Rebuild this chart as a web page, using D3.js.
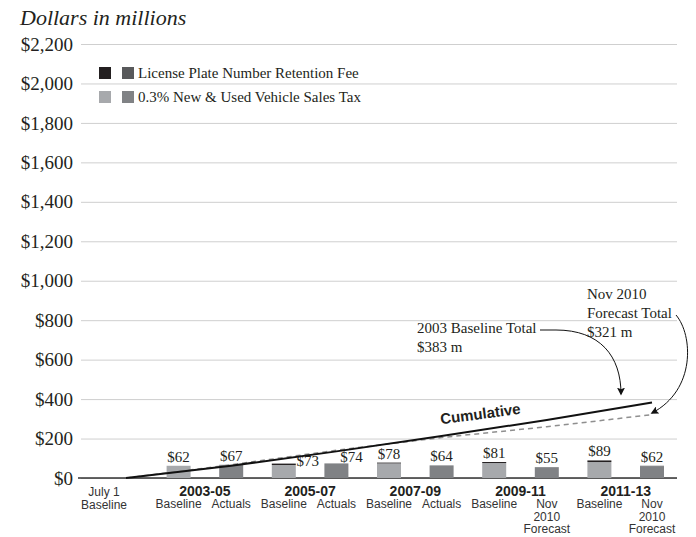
<!DOCTYPE html>
<html>
<head>
<meta charset="utf-8">
<script src="https://cdn.jsdelivr.net/npm/d3@7"></script>
<style>
  body { margin: 0; background: #fff; }
  svg { display: block; }
</style>
</head>
<body>
<div class="chart"></div>
<script>
var svgWidth = 696;
var svgHeight = 537;

// bars, left to right
var periods = ["2003-05", "2005-07", "2007-09", "2009-11", "2011-13"];
var barKinds = ["Baseline", "Actuals", "Baseline", "Actuals", "Baseline", "Actuals",
  "Baseline", "Nov|2010|Forecast", "Baseline", "Nov|2010|Forecast"];
var salesTax = [62, 67, 66, 74, 74, 64, 76, 55, 81, 58];
var plateFee = [0, 0, 7, 0, 4, 0, 5, 0, 8, 4];

// cumulative lines (July 1 start, then each period)
var cumSlots = [0, 2, 4, 6, 8, 10];
var cumBaseline = [0, 62, 135, 213, 294, 383];
var cumForecast = [0, 67, 141, 205, 260, 321];

var yTicks = [0, 200, 400, 600, 800, 1000, 1200, 1400, 1600, 1800, 2000, 2200];

var legendRows = ["License Plate Number Retention Fee", "0.3% New & Used Vehicle Sales Tax"];

var serif = "'Liberation Serif', 'Times New Roman', serif";
var sans = "'Liberation Sans', Arial, Helvetica, sans-serif";
var ink = "#231f20";

var svg = d3.select(".chart")
  .append("svg")
  .attr("width", svgWidth)
  .attr("height", svgHeight);

var x = d3.scalePoint()
  .domain(d3.range(11))
  .range([126, 652]);

var y = d3.scaleLinear()
  .domain([0, 2200])
  .range([478, 44]);

var barWidth = 24;

// title
svg.append("text")
  .text("Dollars in millions")
  .attr("x", 20)
  .attr("y", 25)
  .attr("font-family", serif)
  .attr("font-style", "italic")
  .attr("font-size", 22)
  .attr("fill", ink);

// y axis + gridlines
var yAxis = svg.append("g")
  .attr("transform", "translate(81,0)")
  .call(d3.axisLeft(y)
    .tickValues(yTicks)
    .tickSize(-596)
    .tickPadding(8)
    .tickFormat(function(d) { return "$" + d3.format(",")(d); }));

yAxis.select(".domain").remove();
yAxis.selectAll(".tick line")
  .attr("stroke", "#cfcfcf")
  .attr("stroke-width", 1);
yAxis.selectAll(".tick text")
  .attr("font-family", serif)
  .attr("font-size", 19)
  .attr("fill", ink);

// baseline
svg.append("line")
  .attr("x1", 78)
  .attr("x2", 677)
  .attr("y1", y(0))
  .attr("y2", y(0))
  .attr("stroke", "#333")
  .attr("stroke-width", 1.5);

// legend
var legend = svg.append("g");
var legendColors = [["#231f20", "#58595b"], ["#a7a9ac", "#808285"]];
legendRows.forEach(function(label, i) {
  var ly = 73 + i * 24;
  legend.append("rect")
    .attr("x", 99).attr("y", ly - 6)
    .attr("width", 12).attr("height", 12)
    .attr("fill", legendColors[i][0]);
  legend.append("rect")
    .attr("x", 122).attr("y", ly - 6)
    .attr("width", 12).attr("height", 12)
    .attr("fill", legendColors[i][1]);
  legend.append("text")
    .text(label)
    .attr("x", 138)
    .attr("y", ly + 5)
    .attr("font-family", serif)
    .attr("font-size", 15)
    .attr("fill", ink);
});

// bars
var barData = salesTax.map(function(v, i) {
  return { slot: i + 1, tax: v, fee: plateFee[i], kind: barKinds[i], baseline: i % 2 == 0 };
});

var bars = svg.append("g").selectAll("g")
  .data(barData)
  .enter()
  .append("g");

bars.append("rect")
  .attr("x", function(d) { return x(d.slot) - barWidth / 2; })
  .attr("y", function(d) { return y(d.tax); })
  .attr("width", barWidth)
  .attr("height", function(d) { return y(0) - y(d.tax); })
  .attr("fill", function(d) { return d.baseline ? "#a7a9ac" : "#808285"; });

bars.append("rect")
  .attr("x", function(d) { return x(d.slot) - barWidth / 2; })
  .attr("y", function(d) { return y(d.tax + d.fee); })
  .attr("width", barWidth)
  .attr("height", function(d) { return y(d.tax) - y(d.tax + d.fee); })
  .attr("fill", function(d) { return d.baseline ? "#231f20" : "#58595b"; });

// a couple of value labels get nudged off the cumulative line
var nudge = { 3: [24, 6], 4: [15, 3] };

bars.append("text")
  .text(function(d) { return "$" + (d.tax + d.fee); })
  .attr("x", function(d) { return x(d.slot) + (nudge[d.slot] ? nudge[d.slot][0] : 0); })
  .attr("y", function(d) { return y(d.tax + d.fee) - 4 + (nudge[d.slot] ? nudge[d.slot][1] : 0); })
  .attr("text-anchor", "middle")
  .attr("font-family", serif)
  .attr("font-size", 15)
  .attr("fill", ink);

// cumulative lines
var line = d3.line()
  .x(function(d) { return x(d[0]); })
  .y(function(d) { return y(d[1]); });

svg.append("path")
  .datum(cumSlots.map(function(s, i) { return [s, cumForecast[i]]; }))
  .attr("d", line)
  .attr("fill", "none")
  .attr("stroke", "#8f8f8f")
  .attr("stroke-width", 1.5)
  .attr("stroke-dasharray", "5,4");

svg.append("path")
  .datum(cumSlots.map(function(s, i) { return [s, cumBaseline[i]]; }))
  .attr("d", line)
  .attr("fill", "none")
  .attr("stroke", "#111")
  .attr("stroke-width", 2);

svg.append("text")
  .text("Cumulative")
  .attr("transform", "translate(481,419) rotate(-7.5)")
  .attr("text-anchor", "middle")
  .attr("font-family", sans)
  .attr("font-weight", "bold")
  .attr("font-size", 15)
  .attr("fill", ink);

// x labels
var xLabels = svg.append("g")
  .attr("font-family", sans)
  .attr("fill", "#333");

xLabels.selectAll(".period")
  .data(periods)
  .enter()
  .append("text")
  .text(function(d) { return d; })
  .attr("x", function(d, i) { return (x(i * 2 + 1) + x(i * 2 + 2)) / 2; })
  .attr("y", 496)
  .attr("text-anchor", "middle")
  .attr("font-weight", "bold")
  .attr("font-size", 14)
  .attr("fill", ink);

xLabels.selectAll(".kind")
  .data(barData)
  .enter()
  .append("text")
  .attr("x", function(d) { return x(d.slot); })
  .attr("y", 508)
  .attr("text-anchor", "middle")
  .attr("font-size", 12)
  .selectAll("tspan")
  .data(function(d) { return d.kind.split("|"); })
  .enter()
  .append("tspan")
  .attr("x", function() { return d3.select(this.parentNode).attr("x"); })
  .attr("dy", function(d, i) { return i == 0 ? 0 : 12.5; })
  .text(function(d) { return d; });

var july = xLabels.append("text")
  .attr("x", x(0) - 22)
  .attr("y", 496)
  .attr("text-anchor", "middle")
  .attr("font-size", 12);
july.append("tspan").attr("x", x(0) - 22).text("July 1");
july.append("tspan").attr("x", x(0) - 22).attr("dy", 12.5).text("Baseline");

// annotations
svg.append("defs").append("marker")
  .attr("id", "arrow")
  .attr("viewBox", "0 0 10 10")
  .attr("refX", 8)
  .attr("refY", 5)
  .attr("markerWidth", 8)
  .attr("markerHeight", 8)
  .attr("markerUnits", "userSpaceOnUse")
  .attr("orient", "auto")
  .append("path")
  .attr("d", "M0,0 L10,5 L0,10 L2,5 z")
  .attr("fill", "#111");

var notes = svg.append("g")
  .attr("font-family", serif)
  .attr("font-size", 15)
  .attr("fill", ink);

notes.append("text").attr("x", 417).attr("y", 333).text("2003 Baseline Total");
notes.append("text").attr("x", 417).attr("y", 352).text("$383 m");
notes.append("text").attr("x", 587).attr("y", 299).text("Nov 2010");
notes.append("text").attr("x", 587).attr("y", 318).text("Forecast Total");
notes.append("text").attr("x", 587).attr("y", 337).text("$321 m");

svg.append("path")
  .attr("d", "M540,330 L556,330 C600,330 621,356 621,394")
  .attr("fill", "none")
  .attr("stroke", "#111")
  .attr("stroke-width", 1)
  .attr("marker-end", "url(#arrow)");

svg.append("path")
  .attr("d", "M676,315 C693,335 696,390 652,413")
  .attr("fill", "none")
  .attr("stroke", "#111")
  .attr("stroke-width", 1)
  .attr("marker-end", "url(#arrow)");
</script>
</body>
</html>
